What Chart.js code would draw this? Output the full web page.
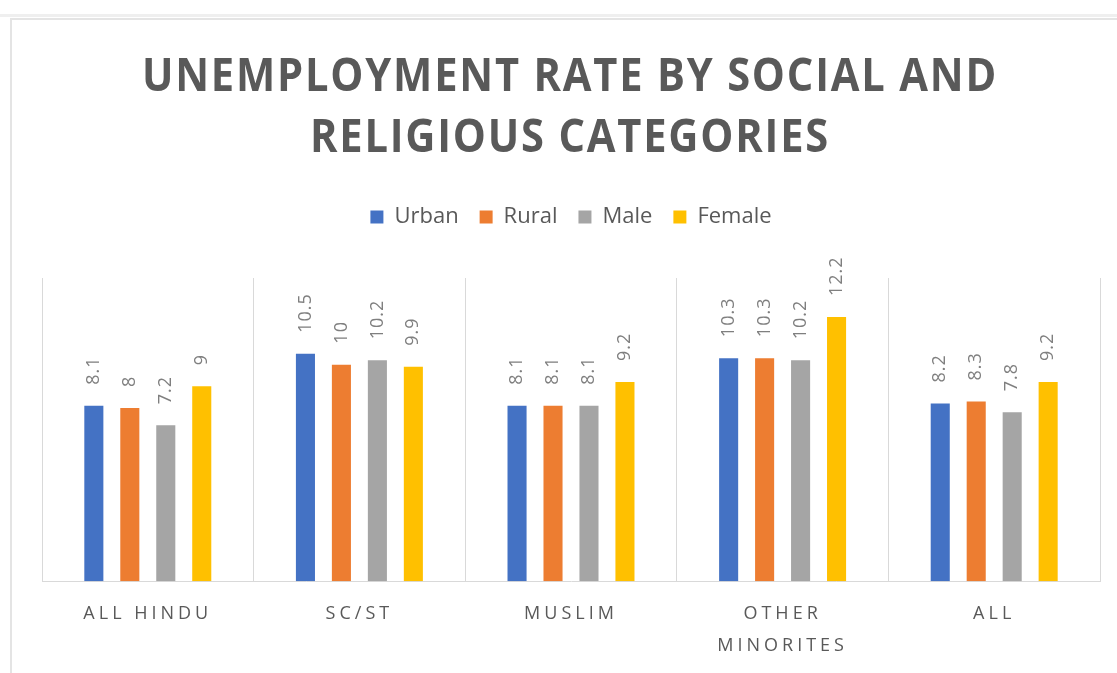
<!DOCTYPE html>
<html lang="en">
<head>
    <meta charset="UTF-8">
    <title>Unemployment rate</title>
    <script src="https://cdn.jsdelivr.net/npm/chart.js"></script>
    <style>
        body { margin: 0; background: #fff; width: 1117px; height: 673px; overflow: hidden; position: relative; font-family: "Open Sans", sans-serif; }
        .strip { position: absolute; left: 0; top: 14px; width: 1117px; height: 3px; background: #efefef; }
        .card { position: absolute; left: 10px; top: 18px; width: 1120px; height: 670px; border-left: 2px solid #e4e4e4; border-top: 2px solid #e4e4e4; }
        #title {
            position: absolute; left: 23px; top: 43px; width: 1094px; margin: 0;
            text-align: center; font-size: 46px; line-height: 61px; font-weight: 700;
            letter-spacing: 2px; color: #595959; transform: scaleX(0.905);
        }
        #chartBox { position: absolute; left: 12px; top: 20px; width: 1105px; height: 669px; }
    </style>
</head>
<body>
    <div class="strip"></div>
    <div class="card"></div>
    <div id="chartBox"><canvas id="rateChart"></canvas></div>
    <h1 id="title">UNEMPLOYMENT RATE BY SOCIAL AND<br>RELIGIOUS CATEGORIES</h1>

    <script>
        const categories = ['ALL HINDU', 'SC/ST', 'MUSLIM', ['OTHER', 'MINORITES'], 'ALL'];
        const urban  = [8.1, 10.5, 8.1, 10.3, 8.2];
        const rural  = [8, 10, 8.1, 10.3, 8.3];
        const male   = [7.2, 10.2, 8.1, 10.2, 7.8];
        const female = [9, 9.9, 9.2, 12.2, 9.2];

        // value labels above bars, turned on their side
        const barLabels = {
            id: 'barLabels',
            afterDatasetsDraw(chart) {
                const ctx = chart.ctx;
                chart.data.datasets.forEach((ds, i) => {
                    chart.getDatasetMeta(i).data.forEach((bar, j) => {
                        ctx.save();
                        ctx.translate(bar.x, bar.y - 21);
                        ctx.rotate(-Math.PI / 2);
                        ctx.font = '18px "Open Sans"';
                        ctx.letterSpacing = '1px';
                        ctx.fillStyle = '#7f7f7f';
                        ctx.textAlign = 'left';
                        ctx.textBaseline = 'middle';
                        ctx.fillText(String(ds.data[j]), 0, 0);
                        ctx.restore();
                    });
                });
            }
        };

        // spaced out category labels
        const spacedTicks = {
            id: 'spacedTicks',
            beforeDraw(chart) {
                const sc = chart.scales.x;
                if (sc._spaced) return;
                const orig = sc.drawLabels;
                sc.drawLabels = function (area) {
                    this.ctx.save();
                    this.ctx.letterSpacing = '4px';
                    orig.call(this, area);
                    this.ctx.restore();
                };
                sc._spaced = true;
            }
        };

        // keep the plot top level with the reference, below the legend
        const legendGap = {
            id: 'legendGap',
            beforeInit(chart) {
                const fit = chart.legend.fit;
                chart.legend.fit = function () {
                    fit.call(this);
                    this.height = 93;
                };
            }
        };

        new Chart(document.getElementById('rateChart'), {
            type: 'bar',
            data: {
                labels: categories,
                datasets: [
                    { label: 'Urban', data: urban, backgroundColor: '#4472C4' },
                    { label: 'Rural', data: rural, backgroundColor: '#ED7D31' },
                    { label: 'Male', data: male, backgroundColor: '#A5A5A5' },
                    { label: 'Female', data: female, backgroundColor: '#FFC000' }
                ]
            },
            options: {
                responsive: true,
                maintainAspectRatio: false,
                animation: false,
                barPercentage: 0.53,
                categoryPercentage: 0.68,
                layout: { padding: { top: 165, left: 30, right: 17, bottom: 11 } },
                plugins: {
                    legend: {
                        position: 'top',
                        labels: {
                            boxWidth: 13,
                            boxHeight: 13,
                            padding: 21,
                            color: '#595959',
                            font: { family: 'Open Sans', size: 22 }
                        }
                    },
                    tooltip: { enabled: false }
                },
                scales: {
                    x: {
                        grid: { offset: true, color: '#d9d9d9', drawTicks: false },
                        border: { color: '#d9d9d9' },
                        ticks: {
                            padding: 16,
                            color: '#595959',
                            font: { family: 'Open Sans', size: 18, lineHeight: 1.8 }
                        }
                    },
                    y: {
                        display: false,
                        min: 0,
                        max: 14
                    }
                }
            },
            plugins: [barLabels, spacedTicks, legendGap]
        });
    </script>
</body>
</html>
